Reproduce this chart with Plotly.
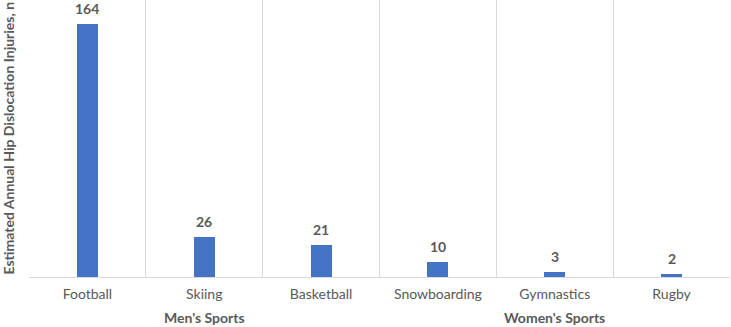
import plotly.graph_objects as go

categories = ["Football", "Skiing", "Basketball", "Snowboarding", "Gymnastics", "Rugby"]
values = [164, 26, 21, 10, 3, 2]
groups = ["Men's Sports", "Men's Sports", "Men's Sports",
          "Women's Sports", "Women's Sports", "Women's Sports"]
y_title = "Estimated Annual Hip Dislocation Injuries, n"

FONT = "Lato"
TXT = "#595959"
GRID = "#d9d9d9"
BAR = "#4472C4"

xs = list(range(len(categories)))
bounds = [i - 0.5 for i in range(len(categories) + 1)]

fig = go.Figure()
fig.add_trace(go.Bar(x=xs, y=values, width=0.18, marker=dict(color=BAR, line=dict(width=0)),
                     hoverinfo="skip"))

for x, v in zip(xs, values):
    fig.add_annotation(x=x, y=v, xref="x", yref="y", text=f"<b>{v}</b>", showarrow=False,
                       yanchor="bottom", yshift=5,
                       font=dict(family=FONT, size=14, color=TXT))

# group labels
seen = []
for g in groups:
    if g not in seen:
        seen.append(g)
for g in seen:
    idx = [i for i, gg in enumerate(groups) if gg == g]
    cx = (idx[0] + idx[-1]) / 2
    fig.add_annotation(x=cx, y=0, xref="x", yref="paper", text=f"<b>{g}</b>", showarrow=False,
                       yanchor="bottom", yshift=-50, borderpad=0,
                       font=dict(family=FONT, size=14, color=TXT))

fig.add_annotation(x=0, y=0.5, xref="paper", yref="paper", text=f"<b>{y_title}</b>",
                   textangle=-90, showarrow=False, xanchor="center", xshift=-21,
                   font=dict(family=FONT, size=14, color=TXT))

fig.update_layout(
    width=731, height=327,
    margin=dict(l=29, r=1, t=0, b=50),
    plot_bgcolor="white", paper_bgcolor="white",
    showlegend=False,
    bargap=0,
    xaxis=dict(range=[bounds[0], bounds[-1]], tickmode="array", tickvals=xs, ticktext=categories,
               showgrid=False, zeroline=False, showline=True, linecolor=GRID, linewidth=1,
               ticks="", ticklabelstandoff=4,
               tickfont=dict(family=FONT, size=14, color=TXT),
               minor=dict(tickmode="array", tickvals=bounds, showgrid=True, gridcolor=GRID, gridwidth=1, ticks="")),
    yaxis=dict(range=[0, 179.5], showgrid=False, zeroline=False, showticklabels=False, showline=False,
               ticks=""),
)

fig.write_html("out.html", config={"displayModeBar": False},
               post_script="document.body.style.margin='0';document.body.style.overflow='hidden';")
